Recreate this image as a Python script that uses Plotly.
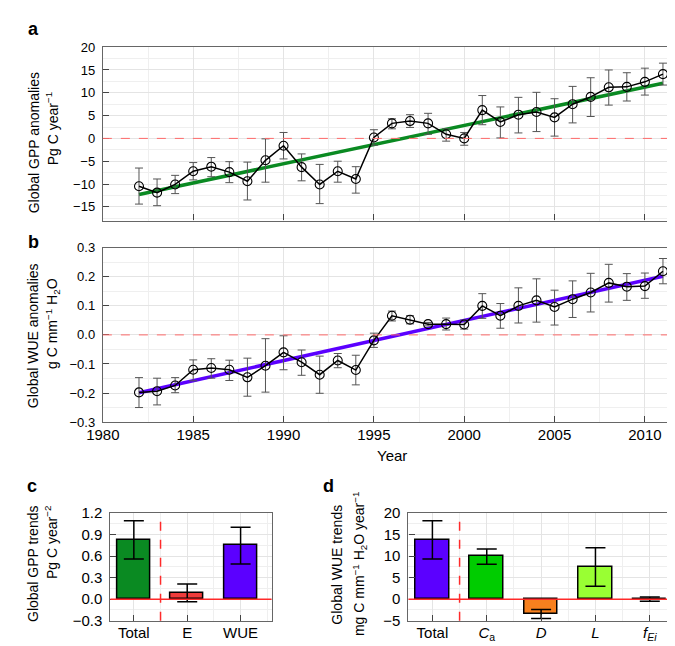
import plotly.graph_objects as go

W, H = 675, 646
FONT = "Liberation Sans, Arial, Helvetica, sans-serif"

# ---------------- data ----------------
years = list(range(1982, 2012))
gpp = [-10.5, -11.9, -10.1, -7.2, -6.2, -7.4, -9.4, -4.8, -1.6, -6.3, -10.1, -7.2, -8.9, 0.2,
       3.3, 3.8, 3.3, 0.9, 0.0, 6.2, 3.6, 5.2, 5.8, 4.6, 7.5, 9.1, 11.2, 11.3, 12.4, 14.1]
gpp_hi = [-6.5, -8.9, -8.1, -5.3, -4.2, -5.1, -5.2, -0.1, 1.3, -3.4, -5.7, -5.0, -6.2, 1.9,
          4.3, 5.2, 5.5, 2.1, 1.3, 9.4, 6.9, 9.0, 10.1, 8.7, 11.4, 13.3, 15.0, 14.4, 15.4, 16.5]
gpp_lo = [-14.4, -14.75, -12.1, -9.1, -8.4, -9.7, -13.5, -9.6, -4.5, -9.3, -14.3, -9.6, -12.0, -1.5,
          2.1, 2.4, 0.9, -0.6, -1.5, 3.0, 0.1, 1.2, 1.5, 0.5, 3.4, 4.8, 7.3, 8.2, 9.5, 11.7]
gpp_trend_years = [1982, 2011]
gpp_trend = [-12.3, 12.1]

wue = [-0.198, -0.194, -0.174, -0.120, -0.114, -0.120, -0.146, -0.106, -0.060, -0.094, -0.137,
       -0.088, -0.121, -0.019, 0.066, 0.052, 0.037, 0.037, 0.036, 0.100, 0.066, 0.100, 0.119,
       0.096, 0.123, 0.146, 0.179, 0.166, 0.168, 0.219]
wue_hi = [-0.147, -0.149, -0.147, -0.086, -0.082, -0.087, -0.080, -0.013, -0.003, -0.052, -0.073,
          -0.064, -0.070, 0.006, 0.082, 0.066, 0.043, 0.058, 0.051, 0.142, 0.108, 0.162, 0.193,
          0.154, 0.186, 0.212, 0.243, 0.211, 0.213, 0.263]
wue_lo = [-0.250, -0.241, -0.199, -0.158, -0.149, -0.157, -0.211, -0.197, -0.120, -0.139, -0.201,
          -0.113, -0.172, -0.043, 0.048, 0.038, 0.031, 0.017, 0.020, 0.057, 0.023, 0.041, 0.044,
          0.034, 0.060, 0.079, 0.113, 0.119, 0.126, 0.176]
wue_trend_years = [1982, 2011]
wue_trend = [-0.199, 0.202]

c_labels = ["Total", "E", "WUE"]
c_vals = [0.83, 0.09, 0.75]
c_hi = [1.09, 0.21, 1.00]
c_lo = [0.56, -0.035, 0.49]
c_colors = ["#0a8a22", "#f03c3c", "#5b00ff"]

d_labels = ["Total", "<i>C</i><sub>a</sub>", "<i>D</i>", "<i>L</i>", "<i>f</i><sub><i>Ei</i></sub>"]
d_vals = [13.8, 10.0, -3.4, 7.4, 0.1]
d_hi = [18.2, 11.6, -2.4, 11.9, 0.5]
d_lo = [9.3, 8.1, -4.5, 3.0, -0.5]
d_colors = ["#5b00ff", "#00cc00", "#f7801e", "#99ff33", "#999999"]

# ---------------- helpers ----------------
def px_x(p):
    return p / W

def px_y(p):
    return 1 - p / H

def diff(a, b):
    return [x - y for x, y in zip(a, b)]

fig = go.Figure()

# Panel a
fig.add_trace(go.Scatter(x=gpp_trend_years, y=gpp_trend, mode="lines",
                         line=dict(color="#0a8a22", width=3.5), xaxis="x", yaxis="y",
                         showlegend=False))
fig.add_trace(go.Scatter(x=years, y=gpp, mode="lines+markers", xaxis="x", yaxis="y",
                         line=dict(color="black", width=1.5),
                         marker=dict(symbol="circle-open", size=9, color="black",
                                     line=dict(width=1.1)),
                         error_y=dict(type="data", array=diff(gpp_hi, gpp),
                                      arrayminus=diff(gpp, gpp_lo), color="#555555",
                                      thickness=1, width=4),
                         showlegend=False))
# Panel b
fig.add_trace(go.Scatter(x=wue_trend_years, y=wue_trend, mode="lines",
                         line=dict(color="#5b00ff", width=3.5), xaxis="x2", yaxis="y2",
                         showlegend=False))
fig.add_trace(go.Scatter(x=years, y=wue, mode="lines+markers", xaxis="x2", yaxis="y2",
                         line=dict(color="black", width=1.5),
                         marker=dict(symbol="circle-open", size=9, color="black",
                                     line=dict(width=1.1)),
                         error_y=dict(type="data", array=diff(wue_hi, wue),
                                      arrayminus=diff(wue, wue_lo), color="#555555",
                                      thickness=1, width=4),
                         showlegend=False))
# Panel c
fig.add_trace(go.Bar(x=list(range(len(c_labels))), y=c_vals, width=0.62, xaxis="x3", yaxis="y3",
                     marker=dict(color=c_colors, line=dict(color="black", width=1.5)),
                     error_y=dict(type="data", array=diff(c_hi, c_vals),
                                  arrayminus=diff(c_vals, c_lo), color="black",
                                  thickness=1.5, width=10),
                     showlegend=False))
# Panel d
fig.add_trace(go.Bar(x=list(range(len(d_labels))), y=d_vals, width=0.62, xaxis="x4", yaxis="y4",
                     marker=dict(color=d_colors, line=dict(color="black", width=1.5)),
                     error_y=dict(type="data", array=diff(d_hi, d_vals),
                                  arrayminus=diff(d_vals, d_lo), color="black",
                                  thickness=1.5, width=10),
                     showlegend=False))

axis_common = dict(showline=True, mirror=True, linecolor="#666666", linewidth=1.2,
                   ticks="inside", ticklen=6, tickcolor="#444444", tickwidth=1,
                   zeroline=False, showgrid=True, gridcolor="#e4e4e4", gridwidth=1,
                   tickfont=dict(family=FONT, size=15, color="black"))

minor_grid = dict(showgrid=True, gridcolor="#efefef", gridwidth=1, ticks="")

xa = dict(axis_common, domain=[px_x(80), px_x(674)], range=[1980, 2012], tick0=1980, dtick=5,
          minor=dict(minor_grid, dtick=2.5))
ya_font = dict(family=FONT, size=13, color="black")

fig.update_layout(
    width=W, height=H, margin=dict(l=0, r=0, t=0, b=0),
    paper_bgcolor="white", plot_bgcolor="white",
    font=dict(family=FONT, size=14, color="black"),
    xaxis=dict(xa, anchor="y", showticklabels=False),
    yaxis=dict(axis_common, domain=[px_y(209), px_y(31)], range=[-18, 20], tick0=0, dtick=5,
               tickfont=ya_font, anchor="x", ticklabelstandoff=4,
               minor=dict(minor_grid, dtick=2.5)),
    xaxis2=dict(xa, anchor="y2", showticklabels=True, ticklabelstandoff=-1),
    yaxis2=dict(axis_common, domain=[px_y(416), px_y(237)], range=[-0.3, 0.3], tick0=0, dtick=0.1,
                tickformat=".1f", tickfont=ya_font, anchor="x2", ticklabelstandoff=4,
                minor=dict(minor_grid, dtick=0.05)),
    xaxis3=dict(axis_common, domain=[px_x(87.7), px_x(253.3)], range=[-0.44, 2.58],
                tickvals=list(range(len(c_labels))), ticktext=c_labels, anchor="y3",
                ticklabelstandoff=-2, minor=dict(minor_grid, dtick=0.5, tick0=0.5)),
    yaxis3=dict(axis_common, domain=[px_y(620), px_y(509.3)], range=[-0.3, 1.2], tick0=0,
                dtick=0.3, tickformat=".1f", anchor="x3", ticklabelstandoff=4,
                minor=dict(minor_grid, dtick=0.15)),
    xaxis4=dict(axis_common, domain=[px_x(394), px_x(674.3)], range=[-0.44, 4.58],
                tickvals=list(range(len(d_labels))), ticktext=d_labels, anchor="y4",
                ticklabelstandoff=-2, minor=dict(minor_grid, dtick=0.5, tick0=0.5)),
    yaxis4=dict(axis_common, domain=[px_y(620), px_y(509.3)], range=[-5, 20], tick0=0,
                dtick=5, anchor="x4", ticklabelstandoff=4,
                minor=dict(minor_grid, dtick=2.5)),
    bargap=0,
)

# reference lines
shapes = [
    dict(type="line", xref="x domain", yref="y", x0=0, x1=1, y0=0, y1=0,
         line=dict(color="#ff6b6b", width=1, dash="dash")),
    dict(type="line", xref="x2 domain", yref="y2", x0=0, x1=1, y0=0, y1=0,
         line=dict(color="#ff6b6b", width=1, dash="dash")),
    dict(type="line", xref="x3 domain", yref="y3", x0=0, x1=1, y0=0, y1=0,
         line=dict(color="#ff2a2a", width=1.5)),
    dict(type="line", xref="x4 domain", yref="y4", x0=0, x1=1, y0=0, y1=0,
         line=dict(color="#ff2a2a", width=1.5)),
    dict(type="line", xref="x3", yref="y3 domain", x0=0.5, x1=0.5, y0=0, y1=1,
         line=dict(color="#ff2a2a", width=1.5, dash="dash")),
    dict(type="line", xref="x4", yref="y4 domain", x0=0.5, x1=0.5, y0=0, y1=1,
         line=dict(color="#ff2a2a", width=1.5, dash="dash")),
]
fig.update_layout(shapes=shapes)

def ann(text, x, y, size=14, angle=0, bold=False, xanchor="center"):
    fig.add_annotation(text=f"<b>{text}</b>" if bold else text, x=px_x(x), y=px_y(y),
                       xref="paper", yref="paper", showarrow=False, textangle=angle,
                       xanchor=xanchor, yanchor="middle",
                       font=dict(family=FONT, size=size, color="black"))

# panel letters
ann("a", 1, 12, size=18, bold=True, xanchor="left")
ann("b", 1, 231, size=18, bold=True, xanchor="left")
ann("c", 0, 482, size=18, bold=True, xanchor="left")
ann("d", 304, 482, size=18, bold=True, xanchor="left")

# y titles
ann("Global GPP anomalies", 9, 129, angle=-90)
ann("Pg C year<sup>−1</sup>", 28, 115, angle=-90)
ann("Global WUE anomalies", 9, 327, angle=-90)
ann("g C mm<sup>−1</sup> H<sub>2</sub>O", 28, 315, angle=-90)
ann("Global GPP trends", 8, 562, angle=-90)
ann("Pg C year<sup>−2</sup>", 27, 540, angle=-90)
ann("Global WUE trends", 321, 562, angle=-90)
ann("mg C mm<sup>−1</sup> H<sub>2</sub>O year<sup>−1</sup>", 344, 562, angle=-90)

# x title
ann("Year", 377, 450, size=15)

fig.write_html("out.html")
